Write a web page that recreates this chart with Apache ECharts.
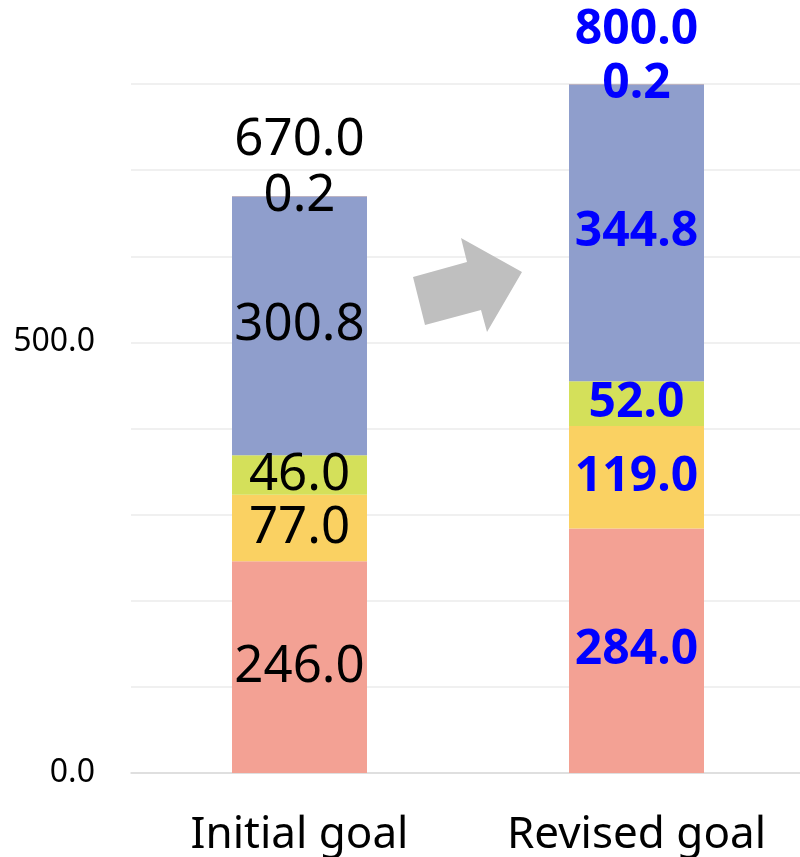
<!DOCTYPE html>
<html><head><meta charset="utf-8">
<script src="https://cdn.jsdelivr.net/npm/echarts@6/dist/echarts.min.js"></script>
<style>html,body{margin:0;padding:0;background:#fff}#c{width:800px;height:857px}</style>
</head><body><div id="c"></div>
<script>
const categories = ['Initial goal', 'Revised goal'];
const seg1 = [246.0, 284.0];
const seg2 = [77.0, 119.0];
const seg3 = [46.0, 52.0];
const seg4 = [300.8, 344.8];
const seg5 = [0.2, 0.2];
const totals = [670.0, 800.0];
const yTickLabels = [0, 500];

const FONT = 'Noto Sans';
function lbl(i) {
  return i === 0
    ? { color: '#000', fontWeight: 'normal', fontSize: 51 }
    : { color: '#0000FF', fontWeight: 'bold', fontSize: 48 };
}
function makeSeries(name, vals, color) {
  return {
    name, type: 'bar', stack: 'a', barWidth: 135,
    itemStyle: { color },
    data: vals.map((v, i) => ({
      value: v,
      label: Object.assign({ show: true, position: 'inside', fontFamily: FONT,
        formatter: p => p.value.toFixed(1) }, lbl(i))
    }))
  };
}
const series = [
  makeSeries('s1', seg1, '#F3A194'),
  makeSeries('s2', seg2, '#FAD162'),
  makeSeries('s3', seg3, '#D4E05A'),
  makeSeries('s4', seg4, '#8F9ECC'),
  makeSeries('s5', seg5, '#F4B183'),
  {
    name: 'total', type: 'bar', stack: 'a', barWidth: 135,
    itemStyle: { color: 'transparent' },
    data: totals.map((t, i) => ({
      value: 0,
      label: Object.assign({ show: true, position: 'top', distance: 30, fontFamily: FONT,
        formatter: () => t.toFixed(1) }, lbl(i))
    }))
  }
];

const chart = echarts.init(document.getElementById('c'), null, { renderer: 'canvas' });
chart.setOption({
  animation: false,
  grid: { left: 131, width: 674, top: 84, bottom: 84, outerBoundsMode: 'none', containLabel: false },
  xAxis: {
    type: 'category', data: categories,
    axisLine: { show: true, lineStyle: { color: '#D9D9D9', width: 1.5 } },
    axisTick: { show: false },
    axisLabel: { color: '#000', fontFamily: FONT, fontSize: 44, margin: 40, interval: 0 }
  },
  yAxis: {
    type: 'value', min: 0, max: 800, interval: 100,
    axisLine: { show: false }, axisTick: { show: false },
    splitLine: { lineStyle: { color: '#EBEBEB', width: 1.5 } },
    axisLabel: { color: '#000', fontFamily: FONT, fontSize: 32, margin: 36,
      formatter: v => yTickLabels.includes(v) ? v.toFixed(1) : '' }
  },
  series,
  graphic: [{
    type: 'polygon', z: 100,
    shape: { points: [[425,325],[413,277],[467,262],[461,238],[522,272],[487,332],[481,310]] },
    style: { fill: '#BFBFBF' }
  }]
});
</script></body></html>
